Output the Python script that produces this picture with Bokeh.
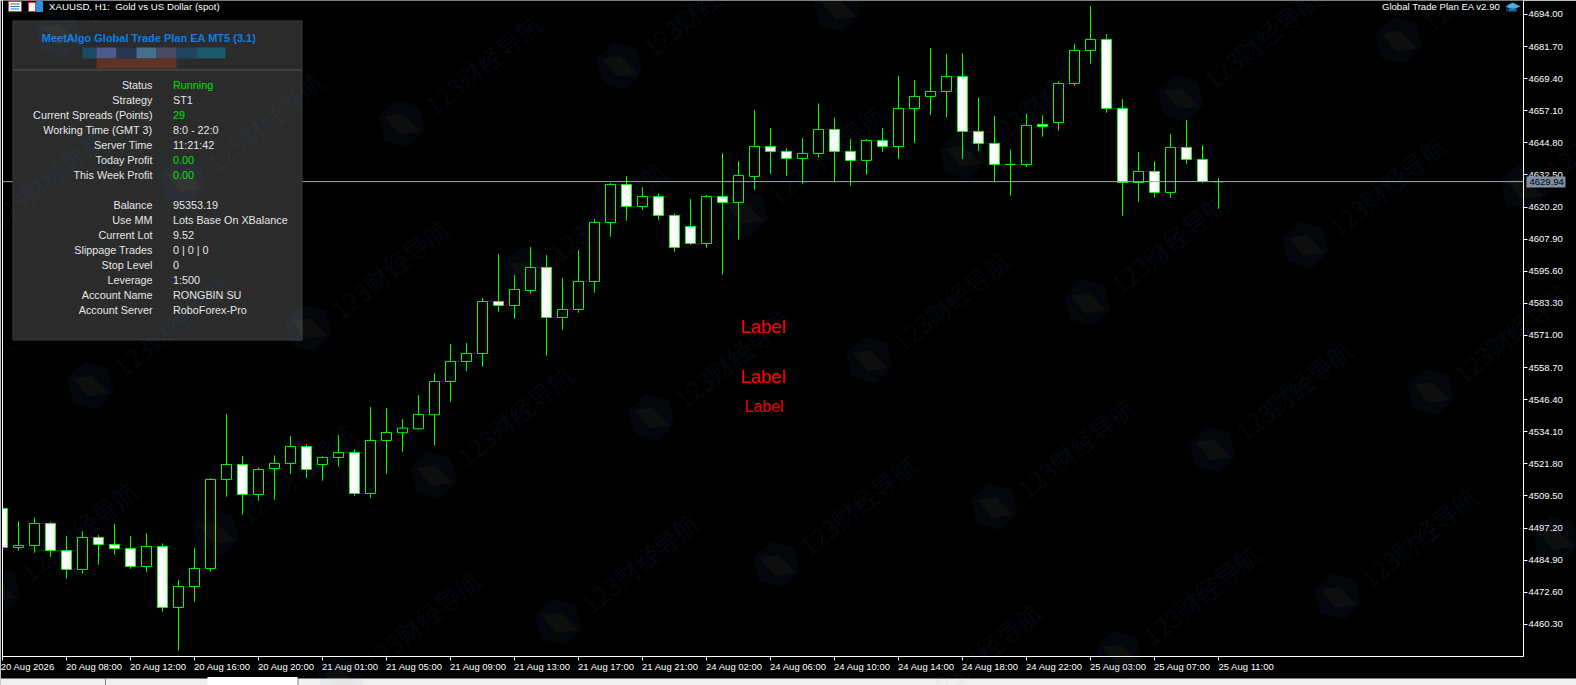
from bokeh.plotting import figure
from bokeh.embed import file_html
from bokeh.resources import INLINE
from bokeh.models import Range1d, LinearAxis, FixedTicker, Label
from bokeh.core.properties import value
import math

opens = [4504.73,4489.79,4490.55,4498.98,4488.64,4481.36,4493.62,4490.94,4489.40,4482.51,4490.17,4466.80,4474.85,4481.74,4515.84,4521.58,4510.09,4520.05,4521.97,4528.48,4521.58,4524.27,4526.18,4510.47,4530.78,4533.72,4535.25,4540.61,4553.38,4561.05,4564.11,4584.03,4582.50,4588.25,4597.06,4577.90,4580.97,4591.69,4614.30,4628.85,4620.43,4624.26,4616.98,4612.76,4606.25,4624.26,4621.97,4631.93,4643.42,4641.51,4638.83,4640.74,4649.94,4641.51,4638.06,4645.72,4643.42,4657.98,4662.58,4664.49,4670.24,4649.17,4644.57,4636.53,4636.53,4651.85,4652.61,4667.55,4680.20,4684.41,4657.98,4629.63,4633.84,4625.80,4643.04,4638.44,4629.94]
highs = [4506.00,4499.87,4501.28,4499.49,4494.13,4496.04,4494.51,4498.73,4494.13,4495.28,4491.32,4477.27,4489.53,4516.35,4540.87,4524.78,4520.43,4525.03,4532.44,4529.25,4524.65,4532.82,4527.33,4543.55,4543.17,4538.95,4548.15,4556.58,4567.69,4568.07,4585.31,4602.17,4594.12,4604.85,4601.78,4592.97,4603.70,4615.57,4629.37,4632.05,4627.83,4625.41,4617.74,4623.24,4624.77,4640.86,4637.80,4657.34,4650.45,4642.78,4646.62,4659.90,4654.53,4646.23,4646.23,4650.45,4670.37,4668.83,4681.09,4678.80,4679.18,4662.19,4655.04,4642.27,4656.06,4655.30,4668.45,4682.62,4697.18,4686.45,4661.55,4641.25,4637.80,4648.14,4653.51,4643.93,4631.29]
lows = [4488.00,4488.51,4487.74,4486.21,4477.78,4479.70,4483.15,4486.98,4481.61,4480.46,4465.14,4450.20,4468.97,4480.46,4509.20,4502.30,4507.66,4508.05,4518.01,4516.48,4515.33,4520.69,4509.58,4508.81,4518.01,4526.44,4535.25,4528.99,4545.59,4557.34,4559.00,4580.07,4577.39,4586.97,4563.22,4573.18,4579.69,4587.35,4608.81,4614.94,4619.15,4615.32,4603.06,4605.74,4604.59,4594.25,4607.79,4626.82,4632.95,4632.19,4629.12,4639.08,4630.01,4628.35,4632.57,4641.38,4638.57,4644.70,4655.43,4654.66,4638.57,4641.63,4630.01,4624.52,4635.51,4647.12,4649.42,4666.66,4675.09,4656.32,4616.86,4622.22,4623.75,4623.75,4636.78,4629.50,4619.54]
closes = [4489.79,4490.55,4498.98,4488.64,4481.36,4493.62,4490.94,4489.40,4482.51,4490.17,4466.80,4474.85,4481.74,4515.84,4521.58,4510.09,4519.67,4521.97,4528.48,4519.67,4524.27,4526.18,4510.47,4530.78,4533.84,4535.51,4540.74,4553.38,4561.05,4564.11,4584.03,4582.50,4588.63,4597.06,4577.90,4580.97,4591.69,4614.30,4628.85,4620.43,4624.26,4616.98,4604.72,4606.25,4624.26,4621.96,4632.31,4643.42,4641.51,4638.83,4640.74,4649.94,4641.51,4638.06,4645.72,4643.42,4657.98,4662.58,4664.49,4670.24,4649.17,4644.57,4636.53,4636.53,4651.47,4651.08,4667.55,4680.20,4684.41,4657.98,4629.63,4633.84,4625.80,4643.04,4638.44,4630.01,4629.94]

last_price = 4629.94
y_tick_values = [4694.00,4681.70,4669.40,4657.10,4644.80,4632.50,4620.20,4607.90,4595.60,4583.30,4571.00,4558.70,4546.40,4534.10,4521.80,4509.50,4497.20,4484.90,4472.60,4460.30]
x_tick_labels = ["20 Aug 2026","20 Aug 08:00","20 Aug 12:00","20 Aug 16:00","20 Aug 20:00","21 Aug 01:00","21 Aug 05:00","21 Aug 09:00","21 Aug 13:00","21 Aug 17:00","21 Aug 21:00","24 Aug 02:00","24 Aug 06:00","24 Aug 10:00","24 Aug 14:00","24 Aug 18:00","24 Aug 22:00","25 Aug 03:00","25 Aug 07:00","25 Aug 11:00"]
x_tick_bars = list(range(0, 77, 4))

panel_keys = ["Status","Strategy","Current Spreads (Points)","Working Time (GMT 3)","Server Time","Today Profit","This Week Profit","","Balance","Use MM","Current Lot","Slippage Trades","Stop Level","Leverage","Account Name","Account Server"]
panel_vals = ["Running","ST1","29","8:0 - 22:0","11:21:42","0.00","0.00","","95353.19","Lots Base On XBalance","9.52","0 | 0 | 0","0","1:500","RONGBIN SU","RoboForex-Pro"]
green_rows = {"Running","29","0.00"}
tab_labels = ["XAUUSD,M15", "XAUUSD,M15", "XAUUSD,H1"]
watermark_text = "123财经导航"

W, H = 1576, 685
FL, FR, FT, FB = 2, 1523, 0, 656
# page pixels to chart values (the renderer adds a half pixel itself)
def X(px): return (px - 2.0) / 16.0
def Y(py): return 4694.0 - (py - 13.9) * 0.38311

pinned = {"position": "absolute", "left": "0px", "top": "0px"}
p = figure(width=W, height=H, output_backend="svg", toolbar_location=None,
           x_range=Range1d(X(FL), X(FR)), y_range=Range1d(Y(FB), Y(FT)),
           x_axis_location=None, y_axis_location=None,
           background_fill_color="#000000", border_fill_color="#000000",
           min_border_left=FL, min_border_right=W-FR, min_border_top=FT, min_border_bottom=H-FB,
           styles=pinned)
p.grid.visible = False
p.outline_line_color = None

UI = "Liberation Sans"

def style_axis(ax):
    ax.axis_line_color = "#ffffff"
    ax.axis_line_width = 1
    ax.major_tick_line_color = "#ffffff"
    ax.major_tick_out = 4
    ax.major_tick_in = 0
    ax.minor_tick_line_color = None
    ax.major_label_text_color = "#ffffff"
    ax.major_label_text_font = UI
    ax.major_label_text_font_size = "9.5px"
    ax.major_label_standoff = 1

right_ax = LinearAxis(ticker=FixedTicker(ticks=y_tick_values))
right_ax.major_label_overrides = {v: f"{v:.2f}" for v in y_tick_values}
style_axis(right_ax)
p.add_layout(right_ax, "right")

left_ax = LinearAxis(ticker=FixedTicker(ticks=[]))
style_axis(left_ax)
left_ax.major_tick_out = 0
left_ax.major_label_standoff = 0
p.add_layout(left_ax, "left")

# tick marks of the time axis
tick_ax = LinearAxis(ticker=FixedTicker(ticks=x_tick_bars))
style_axis(tick_ax)
tick_ax.major_label_overrides = {b: "" for b in x_tick_bars}
tick_ax.major_label_standoff = 0
p.add_layout(tick_ax, "below")

# time labels: MT5 writes them to the right of the tick, so they sit half a label along
label_pos = [b + (1.58 if b == 0 else 1.74) for b in x_tick_bars]
label_ax = LinearAxis(ticker=FixedTicker(ticks=label_pos))
style_axis(label_ax)
label_ax.axis_line_color = None
label_ax.major_tick_line_color = None
label_ax.major_tick_out = 0
label_ax.major_label_standoff = 0
label_ax.major_label_overrides = dict(zip(label_pos, x_tick_labels))
p.add_layout(label_ax, "below")

k = list(range(len(opens)))
tops = [max(o, c) for o, c in zip(opens, closes)]
bots = [min(o, c) for o, c in zip(opens, closes)]
fills = ["#ffffff" if c < o else "#000000" for o, c in zip(opens, closes)]
p.segment(k, lows, k, highs, line_color="#00ff00", line_width=1)
p.vbar(x=k, width=10/16, top=tops, bottom=bots, fill_color=fills, line_color="#00ff00", line_width=1)
p.line([X(FL), X(FR)], [last_price, last_price], line_color="#a0a9b4", line_width=1)

# red labels
for py, x0, fs, col in [(326, 740, "18.5px", "#ff0000"), (376, 740, "18.5px", "#ff0000"), (406, 744, "16px", "#e80000")]:
    p.add_layout(Label(x=X(x0), y=Y(py), text="Label", text_color=col, text_font="Liberation Sans",
                       text_font_size=fs, text_baseline="middle", text_align="left"))

# info panel
p.quad(left=[X(12.5)], right=[X(301.5)], top=[Y(20.5)], bottom=[Y(339.5)], fill_color="#2b2b2b", line_color="#3c3c3c", line_width=1)
p.line([X(12.5), X(301.5)], [Y(69.5), Y(69.5)], line_color="#404040", line_width=2)
seg_x = [82, 96, 116, 136, 156, 176, 196, 225]
seg_c = ["#1d4a66", "#4f5a8a", "#2a3550", "#44708a", "#4a4a62", "#1e4460", "#1c5868"]
p.quad(left=[X(a) for a in seg_x[:-1]], right=[X(a) for a in seg_x[1:]], top=[Y(47)]*7, bottom=[Y(58)]*7,
       fill_color=seg_c, line_color=None)
p.quad(left=[X(96)], right=[X(176)], top=[Y(58)], bottom=[Y(68)], fill_color="#5f3328", line_color=None)
p.text([X(148.5)], [Y(37)], text=["MeetAlgo Global Trade Plan EA MT5 (3.1)"], text_color="#0a7ee8",
       text_font=value("Liberation Sans"), text_font_style="bold", text_font_size="11px",
       text_align="center", text_baseline="middle")
rows_y = [Y(84.5 + 15 * i) for i in range(len(panel_keys))]
p.text([X(152)] * len(rows_y), rows_y, text=panel_keys, text_color="#e6e6e6", text_font=value(UI),
       text_font_size="10.8px", text_align="right", text_baseline="middle")
p.text([X(172.5)] * len(rows_y), rows_y, text=panel_vals,
       text_color=["#00e000" if v in green_rows else "#e6e6e6" for v in panel_vals],
       text_font=value(UI), text_font_size="10.8px", text_align="left", text_baseline="middle")

# header texts and icons
p.text([X(48.5)], [Y(5.5)], text=["XAUUSD, H1:\u00a0 Gold vs US Dollar (spot)"], text_color="#ffffff",
       text_font=value(UI), text_font_size="9.7px", text_align="left", text_baseline="middle")
p.text([X(1500)], [Y(5.5)], text=["Global Trade Plan EA v2.90"], text_color="#ffffff",
       text_font=value(UI), text_font_size="9.6px", text_align="right", text_baseline="middle")
p.quad(left=[X(8)], right=[X(21)], top=[Y(1)], bottom=[Y(11)], fill_color="#ffffff", line_color="#e03a2a")
p.quad(left=[X(10)]*3, right=[X(19)]*3, top=[Y(3), Y(5.5), Y(8)], bottom=[Y(4), Y(6.5), Y(9)], fill_color="#2a6fc0", line_color=None)
p.quad(left=[X(28), X(36)], right=[X(35), X(42)], top=[Y(2), Y(1)], bottom=[Y(11), Y(11)],
       fill_color=["#ffffff", "#2a8fe0"], line_color=["#e03a2a", "#2a8fe0"])
p.patch([X(a) for a in (1505, 1512, 1520, 1512)], [Y(a) for a in (6, 2, 6, 9)], fill_color="#49b0e8", line_color=None)
p.quad(left=[X(1508), X(1506)], right=[X(1516), X(1507)], top=[Y(8), Y(6)], bottom=[Y(11), Y(11)], fill_color="#1a6fb0", line_color=None)

# transparent page-sized layer (its scale is page pixels) for what lies outside the chart frame
ov = figure(width=W, height=H, output_backend="svg", toolbar_location=None,
            x_range=Range1d(0, W), y_range=Range1d(H, 0),
            x_axis_location=None, y_axis_location=None,
            background_fill_color=None, border_fill_color=None,
            min_border=0, styles=pinned)
ov.grid.visible = False
ov.outline_line_color = None

# price tag
ov.quad(left=[1526], right=[1565], top=[176], bottom=[187], fill_color="#7f8fa0", line_color=None)
ov.text([1529], [181.5], text=[f"{last_price:.2f}"], text_color="#000000", text_font=value(UI), text_font_size="9.5px",
        text_align="left", text_baseline="middle")

# bottom tab strip
ov.quad(left=[0], right=[W], top=[678], bottom=[H + 5], fill_color="#f0f0f0", line_color=None)
ov.quad(left=[207], right=[297], top=[676.5], bottom=[H + 5], fill_color="#ffffff", line_color=None)
ov.quad(left=[104.5, 297], right=[105.5, 298], top=[678, 678], bottom=[H + 5, H + 5], fill_color="#808080", line_color=None)
ov.text([14, 115, 217], [688, 688, 688], text=tab_labels, text_color="#000000", text_font=value(UI),
        text_font_size="10.5px", text_align="left", text_baseline="middle")

# watermark
wm_color = "#3a86d9"
hex_x, hex_y, dia_x, dia_y, txt_x, txt_y = [], [], [], [], [], []
for i in range(-4, 10):
    for j in range(-3, 6):
        cx = 1398 - 218 * i + 125 * j
        cy = 40 + 57.5 * i + 147 * j
        if cx < -170 or cx > 1620 or cy < -40 or cy > 720:
            continue
        hex_x.append([cx + 24 * math.cos(math.radians(15 + 60 * n)) for n in range(6)])
        hex_y.append([cy + 24 * math.sin(math.radians(15 + 60 * n)) for n in range(6)])
        dia_x.append([cx + a for a in (-17, 1, 19, -2)])
        dia_y.append([cy + a for a in (-7, -10, 8, 11)])
        txt_x.append(cx + 26)
        txt_y.append(cy - 15)
ov.patches(hex_x, hex_y, fill_color=wm_color, fill_alpha=0.055, line_color=None)
ov.patches(dia_x, dia_y, fill_color="#e8a050", fill_alpha=0.05, line_color=None)
ov.text(txt_x, txt_y, text=[watermark_text] * len(txt_x), angle=39, angle_units="deg",
        text_color=wm_color, text_alpha=0.08, text_font=value("Noto Sans CJK SC"),
        text_font_size="25px", text_align="left", text_baseline="middle")

open("out.html", "w").write(file_html([p, ov], INLINE))
